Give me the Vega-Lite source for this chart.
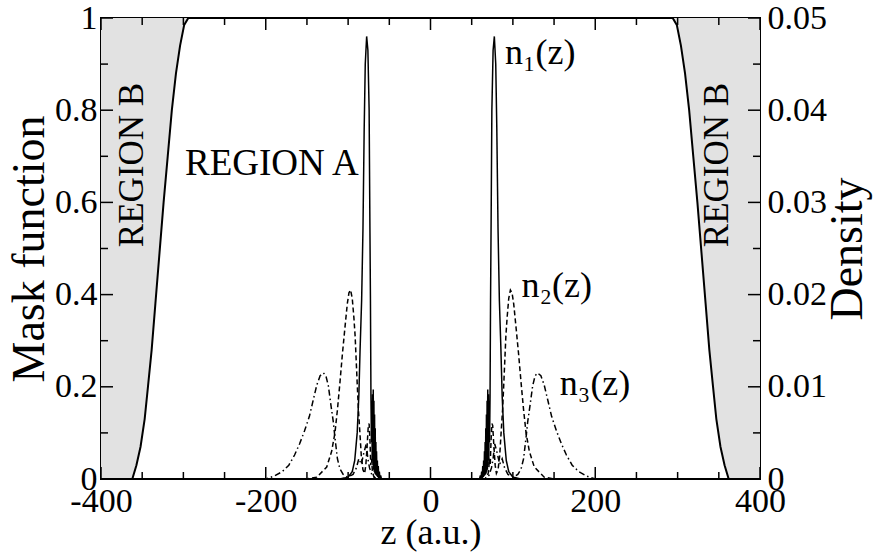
{
  "$schema": "https://vega.github.io/schema/vega-lite/v6.json",
  "width": 659,
  "height": 461,
  "autosize": "none",
  "padding": {"left": 101, "top": 18, "right": 120, "bottom": 73},
  "background": "white",
  "config": {
    "view": {"stroke": "black", "strokeWidth": 2},
    "axis": {
      "labelFont": "Liberation Serif", "titleFont": "Liberation Serif",
      "labelColor": "black", "titleColor": "black",
      "domain": false, "grid": false, "ticks": false, "tickSize": 0, "labelFontSize": 34,
      "titleFontWeight": "normal", "labelFlush": false, "labelOverlap": false,
      "labelBound": false
    },
    "text": {"font": "Liberation Serif", "color": "black"},
    "rule": {"color": "black", "strokeWidth": 1.5}
  },
  "datasets": {
    "xmaj": [{"v": -400}, {"v": -200}, {"v": 0}, {"v": 200}, {"v": 400}],
    "xmin": [{"v": -350}, {"v": -300}, {"v": -250}, {"v": -150}, {"v": -100}, {"v": -50},
             {"v": 50}, {"v": 100}, {"v": 150}, {"v": 250}, {"v": 300}, {"v": 350}],
    "ymaj": [{"v": 0}, {"v": 0.2}, {"v": 0.4}, {"v": 0.6}, {"v": 0.8}, {"v": 1}],
    "ymin": [{"v": 0.1}, {"v": 0.3}, {"v": 0.5}, {"v": 0.7}, {"v": 0.9}],
    "mask": [
      {"z": -400, "m": 0, "side": "L"}, {"z": -362, "m": 0, "side": "L"}, {"z": -357, "m": 0.03, "side": "L"},
      {"z": -352, "m": 0.07, "side": "L"}, {"z": -347, "m": 0.13, "side": "L"}, {"z": -343, "m": 0.2, "side": "L"},
      {"z": -338.5, "m": 0.28, "side": "L"}, {"z": -334, "m": 0.38, "side": "L"}, {"z": -329, "m": 0.49, "side": "L"},
      {"z": -324, "m": 0.6, "side": "L"}, {"z": -319, "m": 0.7, "side": "L"}, {"z": -314, "m": 0.8, "side": "L"},
      {"z": -309, "m": 0.88, "side": "L"}, {"z": -304, "m": 0.94, "side": "L"}, {"z": -299, "m": 0.985, "side": "L"},
      {"z": -294, "m": 1, "side": "L"},
      {"z": 294, "m": 1, "side": "R"}, {"z": 299, "m": 0.985, "side": "R"}, {"z": 304, "m": 0.94, "side": "R"},
      {"z": 309, "m": 0.88, "side": "R"}, {"z": 314, "m": 0.8, "side": "R"}, {"z": 319, "m": 0.7, "side": "R"},
      {"z": 324, "m": 0.6, "side": "R"}, {"z": 329, "m": 0.49, "side": "R"}, {"z": 334, "m": 0.38, "side": "R"},
      {"z": 338.5, "m": 0.28, "side": "R"}, {"z": 343, "m": 0.2, "side": "R"}, {"z": 347, "m": 0.13, "side": "R"},
      {"z": 352, "m": 0.07, "side": "R"}, {"z": 357, "m": 0.03, "side": "R"}, {"z": 362, "m": 0, "side": "R"},
      {"z": 400, "m": 0, "side": "R"}
    ],
    "dens": [
      {"s": "n1", "z": -270, "d": 0}, {"s": "n1", "z": -110, "d": 0}, {"s": "n1", "z": -100, "d": 0.0002},
      {"s": "n1", "z": -95, "d": 0.0008}, {"s": "n1", "z": -92, "d": 0.002}, {"s": "n1", "z": -89, "d": 0.005},
      {"s": "n1", "z": -87, "d": 0.009}, {"s": "n1", "z": -85.5, "d": 0.014}, {"s": "n1", "z": -83.6, "d": 0.0194},
      {"s": "n1", "z": -82, "d": 0.027}, {"s": "n1", "z": -80.5, "d": 0.038}, {"s": "n1", "z": -79.2, "d": 0.045},
      {"s": "n1", "z": -77.5, "d": 0.048}, {"s": "n1", "z": -76, "d": 0.0465}, {"s": "n1", "z": -74.5, "d": 0.04},
      {"s": "n1", "z": -73.6, "d": 0.028}, {"s": "n1", "z": -72.9, "d": 0.0194}, {"s": "n1", "z": -72.3, "d": 0.009},
      {"s": "n1", "z": -71.7, "d": 0.004}, {"s": "n1", "z": -71.2, "d": 0.0085}, {"s": "n1", "z": -70.8, "d": 0.002},
      {"s": "n1", "z": -70.3, "d": 0.0092}, {"s": "n1", "z": -69.9, "d": 0.0015}, {"s": "n1", "z": -69.5, "d": 0.0097},
      {"s": "n1", "z": -69.1, "d": 0.001}, {"s": "n1", "z": -68.7, "d": 0.0085}, {"s": "n1", "z": -68.3, "d": 0.0008},
      {"s": "n1", "z": -67.9, "d": 0.007}, {"s": "n1", "z": -67.5, "d": 0.0006}, {"s": "n1", "z": -67.1, "d": 0.0055},
      {"s": "n1", "z": -66.7, "d": 0.0005}, {"s": "n1", "z": -66.3, "d": 0.004}, {"s": "n1", "z": -65.9, "d": 0.0004},
      {"s": "n1", "z": -65.5, "d": 0.003}, {"s": "n1", "z": -65, "d": 0.0003}, {"s": "n1", "z": -64.5, "d": 0.002},
      {"s": "n1", "z": -64, "d": 0.0002}, {"s": "n1", "z": -63.4, "d": 0.0014}, {"s": "n1", "z": -62.8, "d": 0.0001},
      {"s": "n1", "z": -62.1, "d": 0.0008}, {"s": "n1", "z": -61.4, "d": 0.0001}, {"s": "n1", "z": -60.6, "d": 0.0004},
      {"s": "n1", "z": -59.5, "d": 0},
      {"s": "n1", "z": 59.5, "d": 0}, {"s": "n1", "z": 60.6, "d": 0.0004}, {"s": "n1", "z": 61.4, "d": 0.0001},
      {"s": "n1", "z": 62.1, "d": 0.0008}, {"s": "n1", "z": 62.8, "d": 0.0001}, {"s": "n1", "z": 63.4, "d": 0.0014},
      {"s": "n1", "z": 64, "d": 0.0002}, {"s": "n1", "z": 64.5, "d": 0.002}, {"s": "n1", "z": 65, "d": 0.0003},
      {"s": "n1", "z": 65.5, "d": 0.003}, {"s": "n1", "z": 65.9, "d": 0.0004}, {"s": "n1", "z": 66.3, "d": 0.004},
      {"s": "n1", "z": 66.7, "d": 0.0005}, {"s": "n1", "z": 67.1, "d": 0.0055}, {"s": "n1", "z": 67.5, "d": 0.0006},
      {"s": "n1", "z": 67.9, "d": 0.007}, {"s": "n1", "z": 68.3, "d": 0.0008}, {"s": "n1", "z": 68.7, "d": 0.0085},
      {"s": "n1", "z": 69.1, "d": 0.001}, {"s": "n1", "z": 69.5, "d": 0.0097}, {"s": "n1", "z": 69.9, "d": 0.0015},
      {"s": "n1", "z": 70.3, "d": 0.0092}, {"s": "n1", "z": 70.8, "d": 0.002}, {"s": "n1", "z": 71.2, "d": 0.0085},
      {"s": "n1", "z": 71.7, "d": 0.004}, {"s": "n1", "z": 72.3, "d": 0.009}, {"s": "n1", "z": 72.9, "d": 0.0194},
      {"s": "n1", "z": 73.6, "d": 0.028}, {"s": "n1", "z": 74.5, "d": 0.04}, {"s": "n1", "z": 76, "d": 0.0465},
      {"s": "n1", "z": 77.5, "d": 0.048}, {"s": "n1", "z": 79.2, "d": 0.045}, {"s": "n1", "z": 80.5, "d": 0.038},
      {"s": "n1", "z": 82, "d": 0.027}, {"s": "n1", "z": 83.6, "d": 0.0194}, {"s": "n1", "z": 85.5, "d": 0.014},
      {"s": "n1", "z": 87, "d": 0.009}, {"s": "n1", "z": 89, "d": 0.005}, {"s": "n1", "z": 92, "d": 0.002},
      {"s": "n1", "z": 95, "d": 0.0008}, {"s": "n1", "z": 100, "d": 0.0002}, {"s": "n1", "z": 110, "d": 0},
      {"s": "n1", "z": 270, "d": 0},

      {"s": "n2", "z": -270, "d": 0}, {"s": "n2", "z": -150, "d": 0}, {"s": "n2", "z": -138, "d": 0.0002},
      {"s": "n2", "z": -126, "d": 0.0013}, {"s": "n2", "z": -120, "d": 0.003}, {"s": "n2", "z": -116, "d": 0.005},
      {"s": "n2", "z": -113, "d": 0.0075}, {"s": "n2", "z": -110, "d": 0.0104}, {"s": "n2", "z": -107, "d": 0.0135},
      {"s": "n2", "z": -104, "d": 0.0163}, {"s": "n2", "z": -101, "d": 0.019}, {"s": "n2", "z": -99, "d": 0.0202},
      {"s": "n2", "z": -97, "d": 0.0205}, {"s": "n2", "z": -95, "d": 0.0196}, {"s": "n2", "z": -93, "d": 0.0175},
      {"s": "n2", "z": -91.5, "d": 0.0155}, {"s": "n2", "z": -89, "d": 0.0104}, {"s": "n2", "z": -87.5, "d": 0.0075},
      {"s": "n2", "z": -85.7, "d": 0.005}, {"s": "n2", "z": -84, "d": 0.0025}, {"s": "n2", "z": -82, "d": 0.001},
      {"s": "n2", "z": -80, "d": 0.0006}, {"s": "n2", "z": -78.5, "d": 0.0015}, {"s": "n2", "z": -77, "d": 0.0035},
      {"s": "n2", "z": -75.5, "d": 0.0058}, {"s": "n2", "z": -74.5, "d": 0.006}, {"s": "n2", "z": -73.5, "d": 0.0042},
      {"s": "n2", "z": -72.5, "d": 0.0015}, {"s": "n2", "z": -71.5, "d": 0.0022}, {"s": "n2", "z": -70.5, "d": 0.0008},
      {"s": "n2", "z": -69, "d": 0.0003}, {"s": "n2", "z": -66, "d": 0},
      {"s": "n2", "z": 66, "d": 0}, {"s": "n2", "z": 69, "d": 0.0003}, {"s": "n2", "z": 70.5, "d": 0.0008},
      {"s": "n2", "z": 71.5, "d": 0.0022}, {"s": "n2", "z": 72.5, "d": 0.0015}, {"s": "n2", "z": 73.5, "d": 0.0042},
      {"s": "n2", "z": 74.5, "d": 0.006}, {"s": "n2", "z": 75.5, "d": 0.0058}, {"s": "n2", "z": 77, "d": 0.0035},
      {"s": "n2", "z": 78.5, "d": 0.0015}, {"s": "n2", "z": 80, "d": 0.0006}, {"s": "n2", "z": 82, "d": 0.001},
      {"s": "n2", "z": 84, "d": 0.0025}, {"s": "n2", "z": 85.7, "d": 0.005}, {"s": "n2", "z": 87.5, "d": 0.0075},
      {"s": "n2", "z": 89, "d": 0.0104}, {"s": "n2", "z": 91.5, "d": 0.0155}, {"s": "n2", "z": 93, "d": 0.0175},
      {"s": "n2", "z": 95, "d": 0.0196}, {"s": "n2", "z": 97, "d": 0.0205}, {"s": "n2", "z": 99, "d": 0.0202},
      {"s": "n2", "z": 101, "d": 0.019}, {"s": "n2", "z": 104, "d": 0.0163}, {"s": "n2", "z": 107, "d": 0.0135},
      {"s": "n2", "z": 110, "d": 0.0104}, {"s": "n2", "z": 113, "d": 0.0075}, {"s": "n2", "z": 116, "d": 0.005},
      {"s": "n2", "z": 120, "d": 0.003}, {"s": "n2", "z": 126, "d": 0.0013}, {"s": "n2", "z": 138, "d": 0.0002},
      {"s": "n2", "z": 150, "d": 0}, {"s": "n2", "z": 270, "d": 0},

      {"s": "n3", "z": -270, "d": 0}, {"s": "n3", "z": -200, "d": 0}, {"s": "n3", "z": -190, "d": 0.0003},
      {"s": "n3", "z": -180, "d": 0.0008}, {"s": "n3", "z": -172, "d": 0.0015}, {"s": "n3", "z": -165, "d": 0.0026},
      {"s": "n3", "z": -159, "d": 0.0038}, {"s": "n3", "z": -153, "d": 0.0052}, {"s": "n3", "z": -147, "d": 0.0068},
      {"s": "n3", "z": -142, "d": 0.0087}, {"s": "n3", "z": -138, "d": 0.0102}, {"s": "n3", "z": -134, "d": 0.0112},
      {"s": "n3", "z": -130, "d": 0.0115}, {"s": "n3", "z": -127, "d": 0.0112}, {"s": "n3", "z": -124, "d": 0.0101},
      {"s": "n3", "z": -121, "d": 0.0081}, {"s": "n3", "z": -118, "d": 0.0062}, {"s": "n3", "z": -116, "d": 0.0045},
      {"s": "n3", "z": -113, "d": 0.0022}, {"s": "n3", "z": -110, "d": 0.0011}, {"s": "n3", "z": -106, "d": 0.0005},
      {"s": "n3", "z": -101, "d": 0.0002}, {"s": "n3", "z": -94, "d": 0.0005}, {"s": "n3", "z": -90, "d": 0.0012},
      {"s": "n3", "z": -87, "d": 0.0022}, {"s": "n3", "z": -84, "d": 0.0016}, {"s": "n3", "z": -81, "d": 0.0028},
      {"s": "n3", "z": -78, "d": 0.0038}, {"s": "n3", "z": -76, "d": 0.0022}, {"s": "n3", "z": -74, "d": 0.0012},
      {"s": "n3", "z": -71, "d": 0.0004}, {"s": "n3", "z": -66, "d": 0},
      {"s": "n3", "z": 66, "d": 0}, {"s": "n3", "z": 71, "d": 0.0004}, {"s": "n3", "z": 74, "d": 0.0012},
      {"s": "n3", "z": 76, "d": 0.0022}, {"s": "n3", "z": 78, "d": 0.0038}, {"s": "n3", "z": 81, "d": 0.0028},
      {"s": "n3", "z": 84, "d": 0.0016}, {"s": "n3", "z": 87, "d": 0.0022}, {"s": "n3", "z": 90, "d": 0.0012},
      {"s": "n3", "z": 94, "d": 0.0005}, {"s": "n3", "z": 101, "d": 0.0002}, {"s": "n3", "z": 106, "d": 0.0005},
      {"s": "n3", "z": 110, "d": 0.0011}, {"s": "n3", "z": 113, "d": 0.0022}, {"s": "n3", "z": 116, "d": 0.0045},
      {"s": "n3", "z": 118, "d": 0.0062}, {"s": "n3", "z": 121, "d": 0.0081}, {"s": "n3", "z": 124, "d": 0.0101},
      {"s": "n3", "z": 127, "d": 0.0112}, {"s": "n3", "z": 130, "d": 0.0115}, {"s": "n3", "z": 134, "d": 0.0112},
      {"s": "n3", "z": 138, "d": 0.0102}, {"s": "n3", "z": 142, "d": 0.0087}, {"s": "n3", "z": 147, "d": 0.0068},
      {"s": "n3", "z": 153, "d": 0.0052}, {"s": "n3", "z": 159, "d": 0.0038}, {"s": "n3", "z": 165, "d": 0.0026},
      {"s": "n3", "z": 172, "d": 0.0015}, {"s": "n3", "z": 180, "d": 0.0008}, {"s": "n3", "z": 190, "d": 0.0003},
      {"s": "n3", "z": 200, "d": 0}, {"s": "n3", "z": 270, "d": 0}
    ]
  },
  "layer": [
    {
      "layer": [
        {
          "data": {"name": "mask"},
          "mark": {"type": "area", "color": "#e2e2e2", "opacity": 1},
          "encoding": {
            "x": {"field": "z", "type": "quantitative", "scale": {"domain": [-400, 400]},
              "axis": {"orient": "bottom", "title": "z (a.u.)", "titleFontSize": 36,
                "titleX": 329.5, "titleY": 64, "titleBaseline": "alphabetic", "titleAlign": "center",
                "values": [-400, -200, 0, 200, 400],
                "labelExpr": "'' + datum.value",
                "labelPadding": 5}},
            "y": {"field": "m", "type": "quantitative", "scale": {"domain": [0, 1]},
              "axis": {"orient": "left", "title": "Mask function", "titleFontSize": 46,
                "titleAngle": 270, "titleX": -58, "titleY": 230.5, "titleBaseline": "alphabetic", "titleAlign": "center",
                "values": [0, 0.2, 0.4, 0.6, 0.8, 1],
                "labelExpr": "'' + datum.value",
                "labelPadding": 4}},
            "y2": {"datum": 1},
            "detail": {"field": "side"}
          }
        },
        {
          "data": {"name": "mask"},
          "mark": {"type": "line", "color": "black", "strokeWidth": 2},
          "encoding": {
            "x": {"field": "z", "type": "quantitative"},
            "y": {"field": "m", "type": "quantitative"}
          }
        },
        {
          "data": {"name": "xmaj"},
          "mark": {"type": "rule"},
          "encoding": {"x": {"field": "v", "type": "quantitative"}, "y": {"datum": 0}, "y2": {"datum": 0.026}}
        },
        {
          "data": {"name": "xmin"},
          "mark": {"type": "rule"},
          "encoding": {"x": {"field": "v", "type": "quantitative"}, "y": {"datum": 0}, "y2": {"datum": 0.0152}}
        },
        {
          "data": {"name": "xmaj"},
          "mark": {"type": "rule"},
          "encoding": {"x": {"field": "v", "type": "quantitative"}, "y": {"datum": 1}, "y2": {"datum": 0.974}}
        },
        {
          "data": {"name": "xmin"},
          "mark": {"type": "rule"},
          "encoding": {"x": {"field": "v", "type": "quantitative"}, "y": {"datum": 1}, "y2": {"datum": 0.9848}}
        },
        {
          "data": {"name": "ymaj"},
          "mark": {"type": "rule"},
          "encoding": {"y": {"field": "v", "type": "quantitative"}, "x": {"datum": -400}, "x2": {"datum": -385.4}}
        },
        {
          "data": {"name": "ymin"},
          "mark": {"type": "rule"},
          "encoding": {"y": {"field": "v", "type": "quantitative"}, "x": {"datum": -400}, "x2": {"datum": -391.5}}
        },
        {
          "data": {"name": "ymaj"},
          "mark": {"type": "rule"},
          "encoding": {"y": {"field": "v", "type": "quantitative"}, "x": {"datum": 400}, "x2": {"datum": 385.4}}
        },
        {
          "data": {"name": "ymin"},
          "mark": {"type": "rule"},
          "encoding": {"y": {"field": "v", "type": "quantitative"}, "x": {"datum": 400}, "x2": {"datum": 391.5}}
        },
        {
          "data": {"values": [{"z": -298, "m": 0.659, "t": "REGION A"}]},
          "mark": {"type": "text", "fontSize": 37, "align": "left", "baseline": "alphabetic"},
          "encoding": {
            "x": {"field": "z", "type": "quantitative"},
            "y": {"field": "m", "type": "quantitative"},
            "text": {"field": "t"}
          }
        },
        {
          "data": {"values": [{"z": -349, "m": 0.681, "t": "REGION B"}, {"z": 361, "m": 0.681, "t": "REGION B"}]},
          "mark": {"type": "text", "fontSize": 35, "align": "center", "baseline": "alphabetic", "angle": 270},
          "encoding": {
            "x": {"field": "z", "type": "quantitative"},
            "y": {"field": "m", "type": "quantitative"},
            "text": {"field": "t"}
          }
        },
        {
          "data": {"values": [{"z": 90.3, "m": 0.9, "t": "n₁(z)"}, {"z": 110.5, "m": 0.395, "t": "n₂(z)"}, {"z": 157, "m": 0.182, "t": "n₃(z)"}]},
          "mark": {"type": "text", "fontSize": 36, "align": "left", "baseline": "alphabetic"},
          "encoding": {
            "x": {"field": "z", "type": "quantitative"},
            "y": {"field": "m", "type": "quantitative"},
            "text": {"field": "t"}
          }
        }
      ]
    },
    {
      "data": {"name": "dens"},
      "mark": {"type": "line", "color": "black", "strokeWidth": 1.5},
      "encoding": {
        "x": {"field": "z", "type": "quantitative", "scale": {"domain": [-400, 400]},
          "axis": {"orient": "bottom", "title": "z (a.u.)", "titleFontSize": 36,
            "titleX": 329.5, "titleY": 64, "titleBaseline": "alphabetic", "titleAlign": "center",
            "values": [-400, -200, 0, 200, 400],
            "labelExpr": "'' + datum.value",
            "labelPadding": 5}},
        "y": {"field": "d", "type": "quantitative", "scale": {"domain": [0, 0.05]},
          "axis": {"orient": "right", "title": "Density", "titleFontSize": 46,
            "titleAngle": 270, "titleX": 101, "titleY": 230.5, "titleBaseline": "alphabetic", "titleAlign": "center",
            "values": [0, 0.01, 0.02, 0.03, 0.04, 0.05],
            "labelExpr": "'' + datum.value",
            "labelPadding": 7}},
        "strokeDash": {"field": "s", "type": "nominal",
          "scale": {"domain": ["n1", "n2", "n3"], "range": [[1, 0], [5, 3], [6, 3, 1.5, 3]]}, "legend": null}
      }
    }
  ],
  "resolve": {"scale": {"y": "independent"}}
}
